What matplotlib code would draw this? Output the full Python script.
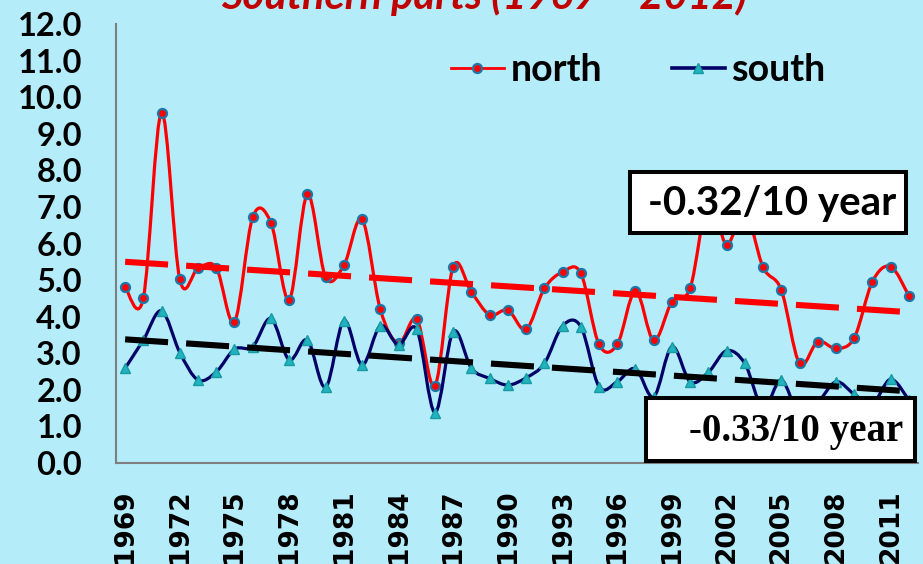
import numpy as np
import matplotlib.pyplot as plt
from matplotlib.path import Path
from matplotlib.patches import PathPatch, Rectangle
from matplotlib.lines import Line2D

years = list(range(1969, 2013))
north = [4.81, 4.51, 9.58, 5.02, 5.32, 5.34, 3.86, 6.72, 6.57, 4.46,
         7.34, 5.08, 5.40, 6.66, 4.20, 3.27, 3.93, 2.11, 5.37, 4.67,
         4.05, 4.18, 3.65, 4.77, 5.22, 5.19, 3.24, 3.24, 4.71, 3.35,
         4.41, 4.78, 7.20, 5.97, 6.90, 5.35, 4.73, 2.72, 3.32, 3.13,
         3.42, 4.96, 5.37, 4.57]
south = [2.59, 3.36, 4.16, 3.02, 2.27, 2.49, 3.11, 3.18, 3.95, 2.82,
         3.36, 2.07, 3.89, 2.68, 3.75, 3.23, 3.65, 1.38, 3.59, 2.59,
         2.31, 2.13, 2.33, 2.72, 3.75, 3.73, 2.09, 2.22, 2.58, 1.81,
         3.18, 2.22, 2.48, 3.07, 2.72, 1.50, 2.27, 1.30, 1.65, 2.22,
         1.88, 1.62, 2.29, 1.72]

# linear trends: value at 1969 and change per 10 years
trend_start = {"north": 5.50, "south": 3.38}
trend_rate = {"north": -0.32, "south": -0.33}

title = "Southern parts (1969 – 2012)"
yticks = np.arange(0, 13, 1.0)

W, H = 923, 564
BG = "#B4ECFA"


def fx(px):
    return px / W


def fy(py):
    return 1 - py / H


def smooth_path(x, y):
    # Bezier spline through every point (Catmull-Rom style control points)
    pts = np.column_stack([np.asarray(x, float), np.asarray(y, float)])
    n = len(pts)
    verts = [pts[0]]
    codes = [Path.MOVETO]
    for i in range(n - 1):
        p0 = pts[max(i - 1, 0)]
        p1 = pts[i]
        p2 = pts[i + 1]
        p3 = pts[min(i + 2, n - 1)]
        verts += [p1 + (p2 - p0) / 6, p2 - (p3 - p1) / 6, p2]
        codes += [Path.CURVE4] * 3
    return Path(verts, codes)


plt.rcParams["lines.scale_dashes"] = False

fig = plt.figure(figsize=(W / 100, H / 100), dpi=100, facecolor=BG)
ax = fig.add_axes([fx(116), fy(463), fx(918) - fx(116), fy(24) - fy(463)])
ax.set_facecolor(BG)

ax.add_patch(PathPatch(smooth_path(years, north), fill=False,
                       edgecolor="#FF0000", lw=2.3, zorder=2))
ax.plot(years, north, ls="none", marker="o", ms=6.5, mfc="#FF0000",
        mec="#1B78A8", mew=1.6, zorder=3)
ax.add_patch(PathPatch(smooth_path(years, south), fill=False,
                       edgecolor="#000066", lw=2.3, zorder=4))
ax.plot(years, south, ls="none", marker="^", ms=7, mfc="#22B4BE",
        mec="#169AA3", mew=1.0, zorder=5)

ends = np.array([years[0], years[-1]])
for key, col in [("north", "#FF0000"), ("south", "#000000")]:
    vals = trend_start[key] + trend_rate[key] / 10 * (ends - years[0])
    ax.plot(ends, vals, color=col, lw=4.4, dashes=(31, 13),
            dash_capstyle="butt", solid_capstyle="butt", zorder=6)

ax.set_xlim(years[0] - 0.5, years[-1] + 0.5)
ax.set_ylim(0, 12)
ax.set_yticks(yticks)
ax.set_yticklabels([f"{v:.1f}" for v in yticks], fontfamily="Lato",
                   fontweight="bold", fontsize=23.5)
ax.set_xticks(years[::3])
ax.set_xticklabels([str(y) for y in years[::3]], rotation=90,
                   fontfamily="DejaVu Sans", fontweight="bold", fontsize=19)
ax.tick_params(axis="y", length=0, pad=24.5)
ax.tick_params(axis="x", length=0, pad=19.0)
for side in ["top", "right"]:
    ax.spines[side].set_visible(False)
for side in ["left", "bottom"]:
    ax.spines[side].set_color("#7F7F7F")
    ax.spines[side].set_linewidth(1.5)

handles = [
    Line2D([], [], color="#FF0000", lw=2.0, marker="o", ms=6.5,
           mfc="#FF0000", mec="#1B78A8", mew=1.6),
    Line2D([], [], color="#000066", lw=2.6, marker="^", ms=7,
           mfc="#22B4BE", mec="#169AA3", mew=1.0),
]
fig.legend(handles, ["north", "south"], loc="center left",
           bbox_to_anchor=(fx(451), fy(70)), ncol=2, frameon=False,
           prop={"family": "Lato", "weight": "bold", "size": 27},
           handlelength=1.41, handletextpad=0.18, columnspacing=1.85,
           borderpad=0, borderaxespad=0)

# slope boxes
fig.add_artist(Rectangle((fx(630), fy(233)), fx(906) - fx(630),
                         fy(172) - fy(233), transform=fig.transFigure,
                         facecolor="white", edgecolor="black", lw=2.9,
                         zorder=10))
fig.text(fx(896), fy(204), f"{trend_rate['north']:.2f}/10 year",
         ha="right", va="center", fontfamily="Lato", fontweight="bold",
         fontsize=29, zorder=11)
fig.add_artist(Rectangle((fx(646), fy(461)), fx(915) - fx(646),
                         fy(398) - fy(461), transform=fig.transFigure,
                         facecolor="white", edgecolor="black", lw=2.9,
                         zorder=10))
fig.text(fx(903), fy(431), f"{trend_rate['south']:.2f}/10 year",
         ha="right", va="center", fontfamily="Liberation Serif",
         fontweight="bold", fontsize=28, zorder=11)

fig.text(fx(484), fy(9), title, ha="center", va="baseline", color="#C00000",
         fontfamily="Lato", fontweight="bold", fontstyle="italic", fontsize=30)

fig.savefig("out.png", dpi=100, facecolor=BG)
